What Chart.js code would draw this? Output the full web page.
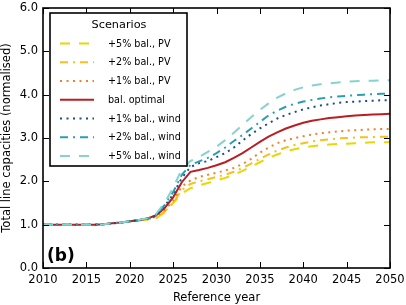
<!DOCTYPE html>
<html><head><meta charset="utf-8">
<script src="https://cdn.jsdelivr.net/npm/chart.js@4"></script>
<style>html,body{margin:0;padding:0;background:#fff}#wrap{width:406px;height:305px}</style>
</head><body><div id="wrap"><canvas id="c" width="406" height="305"></canvas></div>
<script>
const years = [2010,2011,2012,2013,2014,2015,2016,2017,2018,2019,2020,2021,2022,2023,2024,2025,2026,2027,2028,2029,2030,2031,2032,2033,2034,2035,2036,2037,2038,2039,2040,2041,2042,2043,2044,2045,2046,2047,2048,2049,2050];
const xTicks = [2010,2015,2020,2025,2030,2035,2040,2045,2050];
const yTicks = [0,1,2,3,4,5,6];
const labels = ['+5% bal., PV','+2% bal., PV','+1% bal., PV','bal. optimal','+1% bal., wind','+2% bal., wind','+5% bal., wind'];
const pv5   = [1.00,1.00,1.00,1.00,1.00,1.00,1.00,1.01,1.03,1.05,1.07,1.09,1.12,1.14,1.28,1.50,1.72,1.84,1.91,1.96,2.02,2.08,2.15,2.24,2.34,2.44,2.54,2.62,2.69,2.74,2.78,2.81,2.83,2.85,2.86,2.87,2.88,2.89,2.90,2.90,2.90];
const pv2   = [1.00,1.00,1.00,1.00,1.00,1.00,1.00,1.01,1.03,1.05,1.07,1.09,1.12,1.15,1.30,1.50,1.80,1.94,2.00,2.05,2.10,2.15,2.22,2.31,2.41,2.52,2.62,2.71,2.78,2.84,2.88,2.92,2.95,2.97,2.99,3.00,3.01,3.02,3.02,3.03,3.03];
const pv1   = [1.00,1.00,1.00,1.00,1.00,1.00,1.00,1.01,1.03,1.05,1.08,1.10,1.13,1.18,1.33,1.55,1.88,2.02,2.10,2.15,2.20,2.25,2.31,2.40,2.52,2.66,2.78,2.88,2.95,3.00,3.04,3.08,3.11,3.13,3.15,3.17,3.18,3.19,3.20,3.21,3.21];
const balOpt= [1.00,1.00,1.00,1.00,1.00,1.00,1.00,1.01,1.03,1.05,1.08,1.10,1.14,1.21,1.38,1.63,1.98,2.22,2.26,2.31,2.37,2.44,2.54,2.65,2.78,2.91,3.03,3.13,3.22,3.29,3.35,3.40,3.43,3.46,3.48,3.50,3.52,3.53,3.54,3.55,3.56];
const wind1 = [1.00,1.00,1.00,1.00,1.00,1.00,1.00,1.01,1.03,1.05,1.08,1.10,1.14,1.21,1.42,1.70,2.08,2.33,2.42,2.47,2.56,2.65,2.78,2.94,3.09,3.22,3.34,3.45,3.53,3.60,3.66,3.71,3.75,3.78,3.81,3.83,3.84,3.85,3.86,3.87,3.87];
const wind2 = [1.00,1.00,1.00,1.00,1.00,1.00,1.00,1.01,1.03,1.05,1.08,1.10,1.14,1.22,1.45,1.75,2.15,2.38,2.46,2.54,2.65,2.78,2.93,3.07,3.22,3.37,3.52,3.63,3.72,3.79,3.84,3.88,3.91,3.94,3.96,3.97,3.99,4.00,4.01,4.02,4.02];
const wind5 = [1.00,1.00,1.00,1.00,1.00,1.00,1.00,1.01,1.03,1.05,1.08,1.11,1.15,1.24,1.50,1.85,2.28,2.47,2.56,2.68,2.80,2.95,3.12,3.30,3.48,3.65,3.80,3.93,4.03,4.11,4.17,4.21,4.24,4.26,4.28,4.30,4.31,4.32,4.32,4.33,4.33];

const seriesValues = [pv5, pv2, pv1, balOpt, wind1, wind2, wind5];
const colors = ['#e6d800','#f7c01c','#f0802a','#b81e22','#1f4c7e','#2a9fb2','#86d2cf'];
const dashes = [[10,9],[8,5,2,5],[2,4.5],[],[2,4.5],[8,5,2,5],[10,9]];
const FONT = '"DejaVu Sans", sans-serif';

const datasets = seriesValues.map((vals,i)=>({
  label: labels[i],
  data: years.map((y,j)=>({x:y, y:vals[j]})),
  borderColor: colors[i],
  borderDash: dashes[i],
  borderWidth: 2,
  pointRadius: 0,
  tension: 0,
  fill: false,
  order: 10 - i
}));

const decor = {
  id:'decor',
  afterDatasetsDraw(chart){
    const {ctx, chartArea:a, scales:{x,y}} = chart;
    ctx.save();
    ctx.strokeStyle = '#000';
    ctx.lineWidth = 1;
    const tl = 6;
    ctx.beginPath();
    xTicks.forEach(v=>{
      const px = Math.round(x.getPixelForValue(v))+0.5;
      ctx.moveTo(px, a.bottom); ctx.lineTo(px, a.bottom - tl);
      ctx.moveTo(px, a.top); ctx.lineTo(px, a.top + tl);
    });
    yTicks.forEach(v=>{
      const py = Math.round(y.getPixelForValue(v))+0.5;
      ctx.moveTo(a.left, py); ctx.lineTo(a.left + tl, py);
      ctx.moveTo(a.right, py); ctx.lineTo(a.right - tl, py);
    });
    ctx.stroke();
    ctx.lineWidth = 1.6;
    ctx.strokeRect(a.left, a.top, a.right - a.left, a.bottom - a.top);

    // legend
    const lx = 50, ly = 13, lw = 137, lh = 153;
    ctx.fillStyle = '#fff';
    ctx.fillRect(lx, ly, lw, lh);
    ctx.lineWidth = 1.6;
    ctx.strokeRect(lx, ly, lw, lh);
    ctx.fillStyle = '#000';
    ctx.font = '11.3px ' + FONT;
    ctx.textAlign = 'center';
    ctx.textBaseline = 'middle';
    ctx.fillText('Scenarios', 119, 25.5);
    ctx.font = '9.6px ' + FONT;
    ctx.textAlign = 'left';
    chart.data.datasets.forEach((ds,i)=>{
      const yy = 43.5 + i*18.75;
      ctx.save();
      ctx.strokeStyle = ds.borderColor;
      ctx.lineWidth = ds.borderWidth;
      ctx.setLineDash(ds.borderDash);
      ctx.beginPath();
      ctx.moveTo(60, yy); ctx.lineTo(94, yy);
      ctx.stroke();
      ctx.restore();
      ctx.fillStyle = '#000';
      ctx.fillText(ds.label, 108, yy + 0.5);
    });
    // panel label
    ctx.font = 'bold 17px ' + FONT;
    ctx.textAlign = 'left';
    ctx.textBaseline = 'alphabetic';
    ctx.fillText('(b)', 47, 261);
    ctx.restore();
  }
};

new Chart(document.getElementById('c'), {
  type:'line',
  data:{datasets},
  options:{
    responsive:false, animation:false, devicePixelRatio:1,
    layout:{padding:{top:8,right:16,left:0,bottom:0}},
    plugins:{legend:{display:false}, tooltip:{enabled:false}},
    scales:{
      x:{type:'linear', min:2010, max:2050,
        afterBuildTicks(s){ s.ticks = xTicks.map(v=>({value:v})); },
        ticks:{callback:v=>String(v), font:{family:FONT,size:11.5}, color:'#000', padding:5, maxRotation:0, autoSkip:false},
        grid:{display:false, drawTicks:false}, border:{display:false},
        title:{display:true, text:'Reference year', font:{family:FONT,size:11.5}, color:'#000', padding:{top:1,bottom:0}},
        afterFit(s){ s.height = 37; s.paddingLeft = 0; s.paddingRight = 0; }
      },
      y:{min:0, max:6,
        afterBuildTicks(s){ s.ticks = yTicks.map(v=>({value:v})); },
        ticks:{callback:v=>v.toFixed(1), font:{family:FONT,size:11.5}, color:'#000', padding:5},
        grid:{display:false, drawTicks:false}, border:{display:false},
        title:{display:true, text:'Total line capacities (normalised)', font:{family:FONT,size:11.5}, color:'#000', padding:{top:0,bottom:0}},
        afterFit(s){ s.width = 43; s.paddingTop = 0; s.paddingBottom = 0; }
      }
    }
  },
  plugins:[decor]
});
</script></body></html>
